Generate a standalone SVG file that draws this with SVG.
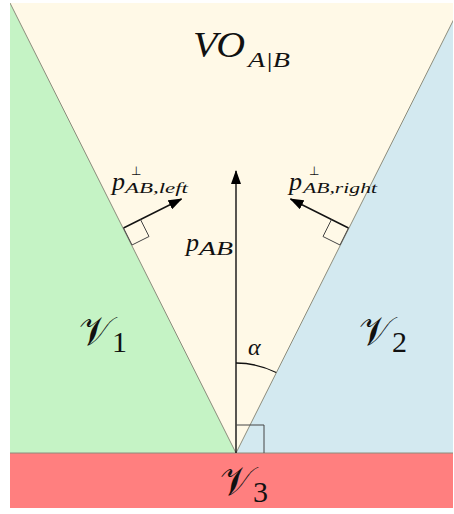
<svg xmlns="http://www.w3.org/2000/svg" width="454" height="514" viewBox="0 0 454 514">
  <defs>
    <marker id="ah" viewBox="0 0 14 10" refX="13" refY="5" markerWidth="14" markerHeight="10" markerUnits="userSpaceOnUse" orient="auto">
      <path d="M0,0 L14,5 L0,10 Z" fill="#000"/>
    </marker>
    <clipPath id="frame"><rect x="10" y="3" width="443" height="505"/></clipPath>
  </defs>
  <style>
    .edge { stroke: #8c8c7c; stroke-width: 1; fill: none; }
    .math { font-family: "Liberation Serif", "DejaVu Serif", serif; font-style: italic; fill: #111; }
    .rm { font-family: "Liberation Serif", "DejaVu Serif", serif; font-style: normal; }
    .perp { font-family: "DejaVu Sans", sans-serif; font-style: normal; fill: #111; }
    .cal { font-family: "DejaVu Serif", "DejaVu Sans", "Liberation Serif", serif; fill: #111; }
    .arrow { stroke: #111; stroke-width: 1.4; fill: none; marker-end: url(#ah); }
    .sq { stroke: #444; stroke-width: 1; fill: none; }
  </style>
  <rect width="454" height="514" fill="#ffffff"/>
  <g clip-path="url(#frame)">
    <g id="region-vo">
      <rect x="10" y="3" width="443" height="450" fill="#fff9e7"/>
      <text class="math" x="193" y="57" font-size="35" textLength="52" lengthAdjust="spacingAndGlyphs">VO</text>
      <text class="math" x="248" y="67" font-size="20" textLength="42" lengthAdjust="spacingAndGlyphs">A|B</text>
    </g>
    <g id="region-v1">
      <polygon points="10,3 236,453 10,453" fill="#c5f3c5"/>
      <line class="edge" x1="10" y1="3" x2="236" y2="453"/>
      <text class="cal" x="79" y="345" font-size="40">𝒱<tspan class="rm" dy="7" font-size="30">1</tspan></text>
    </g>
    <g id="region-v2">
      <polygon points="462,3 236,453 462,453" fill="#d3e9f0"/>
      <line class="edge" x1="462" y1="3" x2="236" y2="453"/>
      <text class="cal" x="359" y="345" font-size="40">𝒱<tspan class="rm" dy="7" font-size="30">2</tspan></text>
    </g>
    <g id="region-v3">
      <rect x="10" y="453" width="443" height="55" fill="#ff7f7f"/>
      <line class="edge" x1="10" y1="453" x2="453" y2="453"/>
      <text class="cal" x="220" y="495" font-size="40">𝒱<tspan class="rm" dy="7" font-size="30">3</tspan></text>
    </g>
  </g>
  <g id="connectors">
    <line class="arrow" x1="236" y1="453" x2="236" y2="171"/>
    <line class="arrow" x1="123.5" y1="228" x2="181.5" y2="199"/>
    <line class="arrow" x1="348.5" y1="228" x2="290.5" y2="199"/>
    <path class="sq" d="M123.5,228 L132,245 L149,236.5 L140.5,219.5"/>
    <path class="sq" d="M348.5,228 L340,245 L323,236.5 L331.5,219.5"/>
    <path class="sq" d="M236,425 L264,425 L264,453"/>
    <path d="M236,363 A90,90 0 0 1 276.2,372.5" stroke="#111" stroke-width="1.3" fill="none"/>
  </g>
  <g id="labels">
    <text class="math" x="186" y="251" font-size="26">p</text>
    <text class="math" x="199" y="255" font-size="19" textLength="34" lengthAdjust="spacingAndGlyphs">AB</text>
    <text class="math" x="248" y="355" font-size="24">α</text>
    <text class="math" x="112" y="190" font-size="26">p</text>
    <text class="perp" x="131" y="175" font-size="12">⊥</text>
    <text class="math" x="125" y="193" font-size="15" textLength="63" lengthAdjust="spacingAndGlyphs">AB,left</text>
    <text class="math" x="289" y="190" font-size="26">p</text>
    <text class="perp" x="309" y="175" font-size="12">⊥</text>
    <text class="math" x="303" y="193" font-size="15" textLength="74" lengthAdjust="spacingAndGlyphs">AB,right</text>
  </g>
</svg>
